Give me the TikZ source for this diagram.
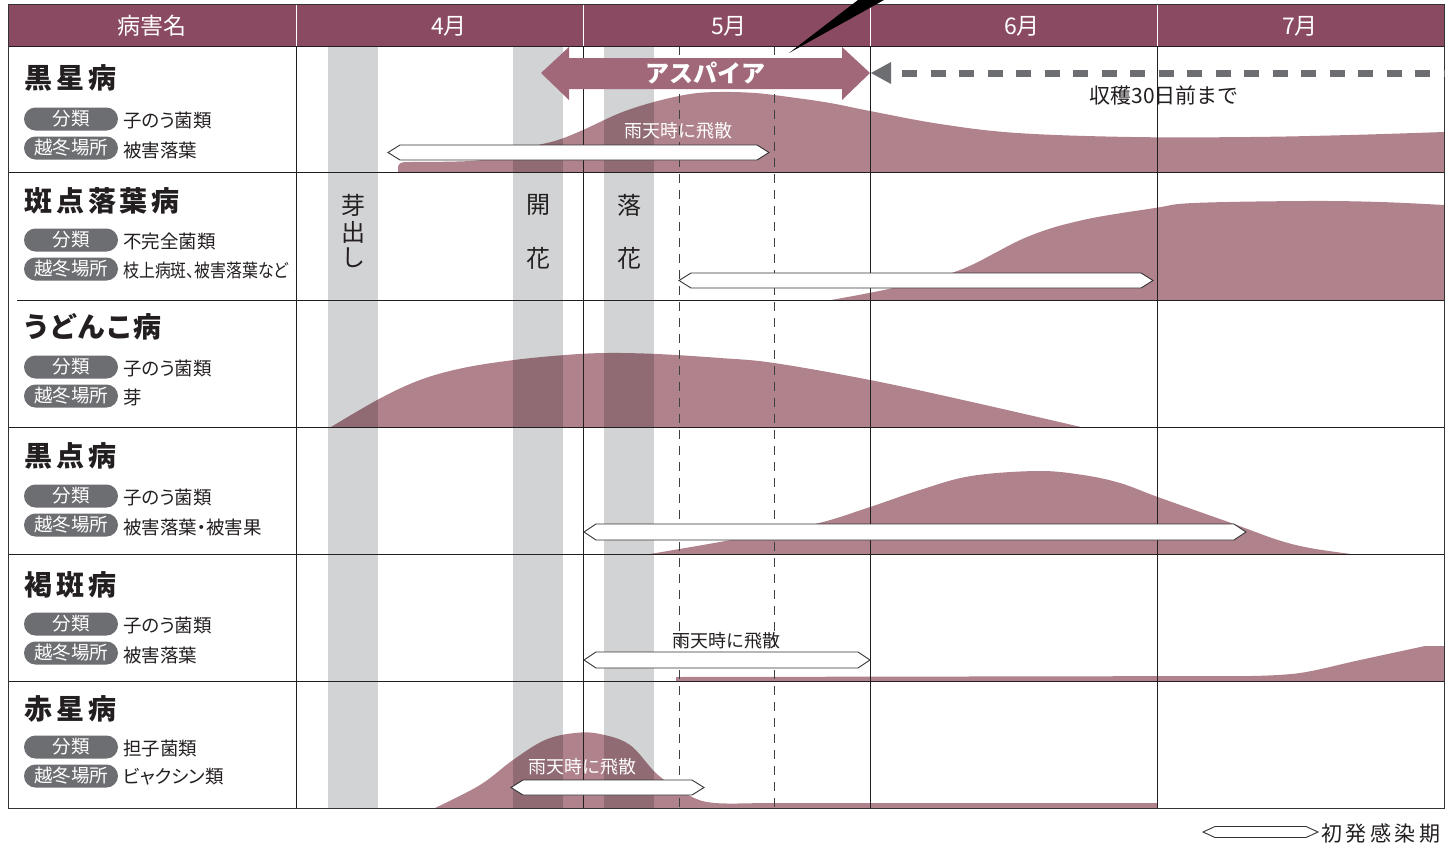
\documentclass[tikz,border=0pt]{standalone}
\usepackage{fontspec}
\setmainfont{Noto Sans CJK JP}
\newfontfamily\jpp{Noto Sans CJK JP}[RawFeature=+palt]
\definecolor{hdr}{HTML}{8A4A61}
\definecolor{crv}{HTML}{B0828C}
\definecolor{asp}{HTML}{A06878}
\definecolor{bandc}{HTML}{D1D3D4}
\definecolor{badgec}{HTML}{6D6E71}
\definecolor{txt}{HTML}{231F20}
\definecolor{gridc}{HTML}{231F20}
\newcommand\hexbar[4]{%
 \draw[hexs] (#1,#3) -- ({#1+12},{#3-#4}) -- ({#2-12},{#3-#4}) -- (#2,#3) -- ({#2-12},{#3+#4}) -- ({#1+12},{#3+#4}) -- cycle;}
\tikzset{
 hexs/.style={fill=white, draw=black!80, line width=0.9pt, line join=miter},
 hdrtxt/.style={text=white, font=\fontsize{23}{26}\selectfont, inner sep=0},
 ttl/.style={anchor=west, text=txt, inner sep=0, font=\fontsize{28}{31}\selectfont\bfseries\addfontfeatures{LetterSpace=14}},
 badge/.style={fill=badgec, text=white, minimum width=94pt, minimum height=23pt, inner sep=0, rounded corners=11.5pt, font=\fontsize{18.5}{20}\selectfont},
 sub/.style={anchor=west, text=txt, inner sep=0, font=\jpp\fontsize{18.5}{20}\selectfont},
 bandtxt/.style={text=txt, inner sep=0, font=\fontsize{24}{26}\selectfont},
 rain/.style={inner sep=0, font=\fontsize{18}{20}\selectfont},
 gl/.style={draw=gridc, line width=0.9pt},
 dl/.style={draw=black!75, line width=0.9pt, dash pattern=on 9pt off 7pt},
}
\begin{document}
\begin{tikzpicture}[x=1pt,y=-1pt]
\useasboundingbox (0,0) rectangle (1456,849);
\fill[white] (0,0) rectangle (1456,849);
% header
\fill[hdr] (8,4) rectangle (1444,46);
% bands
\foreach \a in {328,513,604}{\fill[bandc] (\a,46) rectangle (\a+50,808);}
% curves
\begin{scope}[blend mode=multiply]
\fill[crv] (398,172) -- (398,168) .. controls (398,163) and (401,162) .. (408,162)
  -- plot[smooth,tension=0.6] coordinates {(408,162) (470,161) (505,156) (535,146) (558,140) (583,130) (620,113) (654,102) (690,94) (720,92) (755,93) (789,97) (830,103) (870,111) (940,124) (1017,133) (1131,137) (1250,137) (1350,135) (1444,132)}
  -- (1444,172) -- cycle;
\fill[crv] plot[smooth,tension=0.6] coordinates {(831,300) (893,288) (960,270) (1027,237) (1083,220) (1155,208) (1194,203) (1306,201) (1380,202) (1444,205)} -- (1444,300) -- cycle;
\fill[crv] plot[smooth,tension=0.6] coordinates {(331,427) (379,399) (420,380) (463,368) (514,360) (565,355) (606,353) (657,354) (720,358) (774,363) (870,380) (963,400) (1081,427)} -- cycle;
\fill[crv] plot[smooth,tension=0.6] coordinates {(650,554) (731,540) (815,524) (870,507) (920,490) (971,476) (1038,471) (1083,475) (1120,483) (1155,496) (1200,512) (1234,524) (1278,540) (1310,548) (1351,554)} -- cycle;
\fill[crv] (676,681) -- (676,677) -- (1250,676) -- plot[smooth,tension=0.6] coordinates {(1250,676) (1300,673) (1360,660) (1425,646)} -- (1444,646) -- (1444,681) -- cycle;
\fill[crv] plot[smooth,tension=0.6] coordinates {(435,808) (480,785) (513,760) (545,740) (575,733) (600,734) (630,745) (658,775) (690,796) (715,803) (760,803)} -- (1157,803) -- (1157,808) -- cycle;
\end{scope}
% grid
\foreach \x in {583,870,1157}{\draw[gl] (\x,46) -- (\x,808);}
\foreach \x in {679,774}{\draw[dl] (\x,46) -- (\x,808);}
\draw[gl] (296,46) -- (296,808);
\foreach \y in {172,427,554,681}{\draw[gl] (8,\y) -- (1444,\y);}
\draw[gl] (17,300) -- (1444,300);
\draw[gl] (8,46) -- (1444,46);
\foreach \x in {296,583,870,1157}{\draw[white, line width=1pt] (\x,4) -- (\x,46);}
\draw[draw=black!80, line width=1pt] (8,4) rectangle (1444,808);
% header texts
\node[hdrtxt] (h0) at (152,26) {病害名};
\node[hdrtxt] (h4) at (449,26) {4月};
\node[hdrtxt] (h5) at (729,26) {5月};
\node[hdrtxt] (h6) at (1022,26) {6月};
\node[hdrtxt] (h7) at (1300,26) {7月};
% wedge
\fill[black] (789,53) -- (858,0) -- (884,0) -- cycle;
% aspire arrow
\fill[asp] (541,73) -- (569,47) -- (569,58) -- (842,58) -- (842,47) -- (870,73) -- (842,100) -- (842,89) -- (569,89) -- (569,100) -- cycle;
\node[text=white, inner sep=0, font=\fontsize{24}{26}\selectfont\bfseries] (asp) at (705,73) {アスパイア};
% harvest arrow
\coordinate (g0) at (871,73);
\coordinate (g1) at (902,73);
\coordinate (g2) at (1444,73);
\fill[badgec] (g0) -- (891,62) -- (891,84) -- cycle;
\draw[badgec, line width=7pt, dash pattern=on 15pt off 13.5pt] (g1) -- (g2);
\node[text=txt, inner sep=0, font=\fontsize{21}{23}\selectfont] (harv) at (1164,95) {収穫30日前まで};
% hex bars
\hexbar{388}{769}{152.5}{7.5}
\hexbar{679}{1153}{280.5}{7.5}
\hexbar{584}{1246}{532}{8}
\hexbar{584}{870}{660}{8}
\hexbar{511}{704}{787.5}{7.5}
\hexbar{1203}{1318}{832}{5.5}
\node[inner sep=0, text=txt, anchor=west, font=\fontsize{21}{23}\selectfont\addfontfeatures{LetterSpace=17}] (leg) at (1321,833) {初発感染期};
% rain texts
\node[rain, text=white] (r1) at (678,131) {雨天時に飛散};
\node[rain, text=txt] (r5) at (726,641) {雨天時に飛散};
\node[rain, text=white] (r6) at (582,767) {雨天時に飛散};
% band labels
\node[bandtxt] (b1) at (353,205) {芽};
\node[bandtxt] (b2) at (353,232) {出};
\node[bandtxt] (b3) at (353,258) {し};
\node[bandtxt] (k1) at (538,205) {開};
\node[bandtxt] (k2) at (538,258) {花};
\node[bandtxt] (o1) at (629,205) {落};
\node[bandtxt] (o2) at (629,258) {花};
% left column
\node[ttl] (t1) at (24,78) {黒星病};
\node[badge] (a1) at (71,119) {分類};
\node[badge] (c1) at (71,148) {越冬場所};
\node[sub] (s1) at (123,120) {子のう菌類};
\node[sub] (u1) at (123,150) {被害落葉};

\node[ttl] (t2) at (24,201) {斑点落葉病};
\node[badge] (a2) at (71,240) {分類};
\node[badge] (c2) at (71,269) {越冬場所};
\node[sub] (s2) at (123,241) {不完全菌類};
\node[sub] (u2) at (123,270) {\scalebox{0.86}[1]{枝上病斑、被害落葉など}};

\node[ttl, font=\fontsize{28}{31}\selectfont\bfseries\jpp\addfontfeatures{LetterSpace=10}] (t3) at (24,327) {うどんこ病};
\node[badge] (a3) at (71,367) {分類};
\node[badge] (c3) at (71,396) {越冬場所};
\node[sub] (s3) at (123,368) {子のう菌類};
\node[sub] (u3) at (123,397) {芽};

\node[ttl] (t4) at (24,456) {黒点病};
\node[badge] (a4) at (71,496) {分類};
\node[badge] (c4) at (71,525) {越冬場所};
\node[sub] (s4) at (123,497) {子のう菌類};
\node[sub] (u4) at (123,527) {被害落葉・被害果};

\node[ttl] (t5) at (24,585) {褐斑病};
\node[badge] (a5) at (71,624) {分類};
\node[badge] (c5) at (71,653) {越冬場所};
\node[sub] (s5) at (123,625) {子のう菌類};
\node[sub] (u5) at (123,655) {被害落葉};

\node[ttl] (t6) at (24,709) {赤星病};
\node[badge] (a6) at (71,747) {分類};
\node[badge] (c6) at (71,776) {越冬場所};
\node[sub] (s6) at (123,748) {担子菌類};
\node[sub] (u6) at (123,777) {ビャクシン類};
\end{tikzpicture}
\end{document}
